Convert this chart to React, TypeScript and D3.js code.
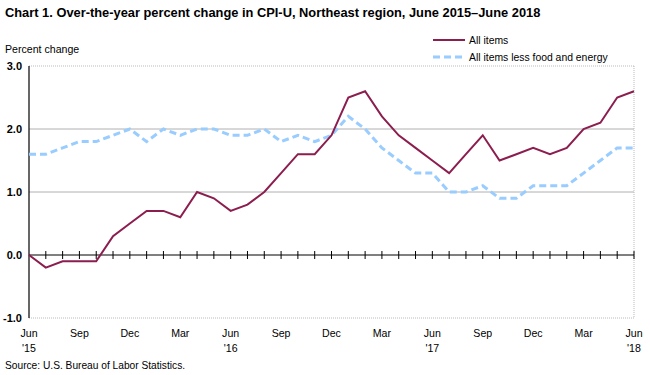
import React from "react";
import * as d3 from "d3";

const months = [
  "Jun","Jul","Aug","Sep","Oct","Nov","Dec",
  "Jan","Feb","Mar","Apr","May","Jun","Jul","Aug","Sep","Oct","Nov","Dec",
  "Jan","Feb","Mar","Apr","May","Jun","Jul","Aug","Sep","Oct","Nov","Dec",
  "Jan","Feb","Mar","Apr","May","Jun",
];
const allItems = [
  0.0, -0.2, -0.1, -0.1, -0.1, 0.3, 0.5,
  0.7, 0.7, 0.6, 1.0, 0.9, 0.7, 0.8, 1.0, 1.3, 1.6, 1.6, 1.9,
  2.5, 2.6, 2.2, 1.9, 1.7, 1.5, 1.3, 1.6, 1.9, 1.5, 1.6, 1.7,
  1.6, 1.7, 2.0, 2.1, 2.5, 2.6,
];
const core = [
  1.6, 1.6, 1.7, 1.8, 1.8, 1.9, 2.0,
  1.8, 2.0, 1.9, 2.0, 2.0, 1.9, 1.9, 2.0, 1.8, 1.9, 1.8, 1.9,
  2.2, 2.0, 1.7, 1.5, 1.3, 1.3, 1.0, 1.0, 1.1, 0.9, 0.9, 1.1,
  1.1, 1.1, 1.3, 1.5, 1.7, 1.7,
];
const yTicks = [-1, 0, 1, 2, 3];
const yearLabels: { [k: number]: string } = { 0: "'15", 12: "'16", 24: "'17", 36: "'18" };
const seriesNames = ["All items", "All items less food and energy"];

const FONT = "Arial, 'Liberation Sans', sans-serif";

export default function App() {
  const W = 650, H = 375;
  const x = d3.scaleLinear().domain([0, months.length - 1]).range([29, 634]);
  const y = d3.scaleLinear().domain([-1, 3]).range([318, 66]);
  const line = d3.line<number>().x((_, i) => x(i)).y((d) => y(d));
  const idx = d3.range(months.length);

  return (
    <svg width={W} height={H} style={{ position: "absolute", left: 0, top: 0, background: "#fff" }} fontFamily={FONT}>
      <rect x={0} y={0} width={W} height={H} fill="#fff" />
      <text x={5} y={17} fontSize={12.85} fontWeight="bold" fill="#000">
        Chart 1. Over-the-year percent change in CPI-U, Northeast region, June 2015–June 2018
      </text>
      <text x={5} y={53} fontSize={10.6} fill="#000">Percent change</text>

      {/* legend */}
      <line x1={433} x2={465} y1={40} y2={40} stroke="#8c1d4f" strokeWidth={2} />
      <text x={469} y={44} fontSize={10.4} fill="#000">{seriesNames[0]}</text>
      <line x1={433} x2={465} y1={57} y2={57} stroke="#99ccff" strokeWidth={3} strokeDasharray="7,4" />
      <text x={469} y={61} fontSize={10.4} fill="#000">{seriesNames[1]}</text>

      {/* grid */}
      {yTicks.filter((t) => t !== 0).map((t) => (
        <line key={t} x1={x(0)} x2={x(months.length - 1)} y1={y(t)} y2={y(t)}
          stroke={t === 2 || t === 1 ? "#b0b0b0" : "#bbbbbb"} strokeWidth={1}
          strokeDasharray={t === 3 || t === -1 ? "1,1" : undefined} />
      ))}
      <line x1={x(months.length - 1)} x2={x(months.length - 1)} y1={y(3)} y2={y(-1)} stroke="#bbbbbb" strokeDasharray="1,1" />

      {/* y labels */}
      {yTicks.map((t) => (
        <text key={t} x={22} y={y(t) + 4} fontSize={11} fontWeight="bold" textAnchor="end" fill="#000">
          {t.toFixed(1)}
        </text>
      ))}

      {/* zero line with ticks */}
      <line x1={x(0)} x2={x(months.length - 1)} y1={y(0)} y2={y(0)} stroke="#000" strokeWidth={1} />
      {idx.slice(1).map((i) => (
        <line key={i} x1={x(i)} x2={x(i)} y1={y(0) - 4} y2={y(0) + 4} stroke="#000" strokeWidth={1} />
      ))}
      <line x1={x(0)} x2={x(0)} y1={y(3)} y2={y(-1)} stroke="#000" strokeWidth={1.2} />

      {/* series */}
      <path d={line(core) || ""} fill="none" stroke="#99ccff" strokeWidth={3} strokeDasharray="7,4" />
      <path d={line(allItems) || ""} fill="none" stroke="#8c1d4f" strokeWidth={2} strokeLinejoin="miter" />

      {/* x labels */}
      {idx.filter((i) => i % 3 === 0).map((i) => (
        <g key={i}>
          <text x={x(i)} y={337} fontSize={10.6} textAnchor="middle" fill="#000">{months[i]}</text>
          {yearLabels[i] && (
            <text x={x(i)} y={352} fontSize={10.6} textAnchor="middle" fill="#000">{yearLabels[i]}</text>
          )}
        </g>
      ))}

      <text x={5} y={369} fontSize={10.2} fill="#000">Source: U.S. Bureau of Labor Statistics.</text>
    </svg>
  );
}
